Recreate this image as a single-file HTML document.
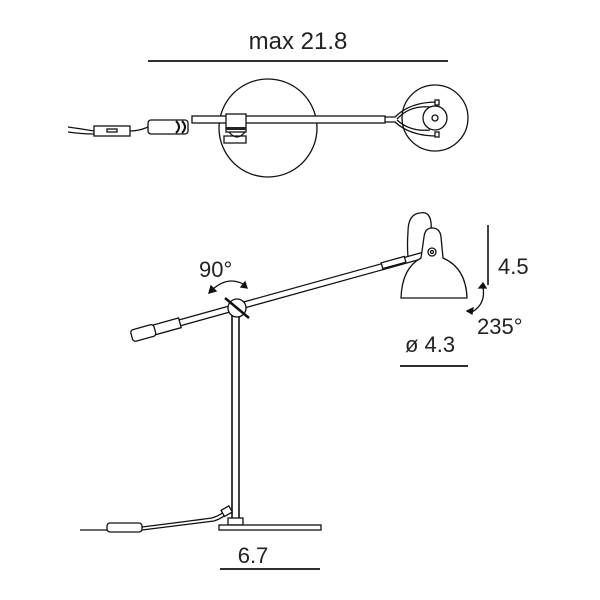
<!DOCTYPE html>
<html><head><style>body{margin:0;background:#fff}svg{display:block}</style></head><body>
<svg width="600" height="600" viewBox="0 0 600 600" xmlns="http://www.w3.org/2000/svg" font-family="Liberation Sans, sans-serif" fill="none" stroke="#111" stroke-width="1.3">
<text x="298" y="49" font-size="24" fill="#222" stroke="none" text-anchor="middle">max 21.8</text>
<line x1="148" y1="61" x2="448" y2="61" stroke-width="1.8"/>
<!-- top view -->
<circle cx="268" cy="128" r="49"/>
<circle cx="435" cy="118" r="33"/>
<rect x="192" y="116" width="193" height="7" fill="#fff"/>
<rect x="226" y="114" width="20" height="18" fill="#fff"/>
<rect x="226" y="127" width="20" height="3" fill="#222" stroke="none"/>
<path d="M224 136 h22 v7 h-22 z" fill="#fff"/>
<path d="M229 132 q8 10 16 0" />
<rect x="148" y="120" width="40" height="14" rx="3" fill="#fff"/>
<path d="M176 121 q6 6 0 12 M182 121 q6 6 0 12" stroke-width="2"/>
<rect x="94" y="126" width="36" height="10" fill="#fff"/>
<rect x="107" y="129" width="10" height="3" fill="#fff"/>
<path d="M68 127 q14 2 26 4 M68 132 q14 2 26 2 M130 131 q9 0 18 -4"/>
<path d="M385 117 L395 117 Q410 102 437 102 M385 122 L395 122 Q410 136 437 136 M397 119 Q410 105 430 107 M397 120 Q410 132 430 130"/>
<rect x="435" y="100" width="4" height="5" fill="#fff"/>
<rect x="435" y="132" width="4" height="5" fill="#fff"/>
<circle cx="435" cy="118" r="12" fill="#fff"/>
<circle cx="435" cy="118" r="3"/>
<!-- side view -->
<line x1="232" y1="312" x2="232" y2="521" stroke-width="1.6"/>
<line x1="239" y1="312" x2="239" y2="521" stroke-width="1.6"/>
<rect x="228" y="518" width="15" height="7" fill="#fff"/>
<rect x="219" y="525" width="102" height="5" fill="#fff"/>
<path d="M80 530 L107 530 M142 527 Q190 521 212 518 Q222 515 228 508" />
<path d="M142 530 Q190 524 214 521 Q224 518 230 510"/>
<rect x="107" y="523" width="35" height="9" rx="3" fill="#fff"/>
<rect x="222" y="508" width="9" height="7" transform="rotate(-30 226 511)" fill="#fff"/>
<g transform="rotate(-15.5 237 308)">
<rect x="150" y="304" width="281" height="6" fill="#fff"/>
<rect x="146" y="302" width="32" height="10" fill="#fff"/>
<rect x="128" y="301" width="24" height="12" rx="3" fill="#fff"/>
<rect x="388" y="303" width="24" height="6" fill="#fff"/>
</g>
<circle cx="237" cy="308" r="9" fill="#fff"/>
<line x1="225" y1="298" x2="249" y2="318" stroke-width="2.5"/>
<path d="M431 233 Q433 210 420 213 Q408 214 408 232 Q407 245 408 257"/>
<path d="M424 237 Q425 228 432 228 Q440 228 441 237 L443 258 Q466 268 467 298 L401 298 Q402 268 421 258 Z" fill="#fff"/>
<circle cx="432" cy="252" r="4" fill="#fff"/>
<circle cx="432" cy="252" r="1.5"/>
<!-- dims -->
<text x="498" y="274" font-size="22" fill="#222" stroke="none">4.5</text>
<line x1="488" y1="225" x2="488" y2="285" stroke-width="1.6"/>
<path d="M483 287 Q486 304 472 312" />
<path d="M467 311 l6 -3 l-1 6 z" fill="#111"/>
<path d="M479 288 l4 -5 l3 5 z" fill="#111"/>
<text x="477" y="334" font-size="22" fill="#222" stroke="none">235°</text>
<text x="405" y="352" font-size="22" fill="#222" stroke="none">ø 4.3</text>
<line x1="400" y1="366" x2="468" y2="366" stroke-width="1.8"/>
<text x="199" y="277" font-size="22" fill="#222" stroke="none">90°</text>
<path d="M212 290 Q228 275 245 285"/>
<path d="M209 293 l2 -7 l5 5 z" fill="#111"/>
<path d="M247 288 l-6 -1 l4 -5 z" fill="#111"/>
<text x="253" y="563" font-size="22" fill="#222" stroke="none" text-anchor="middle">6.7</text>
<line x1="220" y1="569" x2="320" y2="569" stroke-width="1.8"/>
</svg>
</body></html>
